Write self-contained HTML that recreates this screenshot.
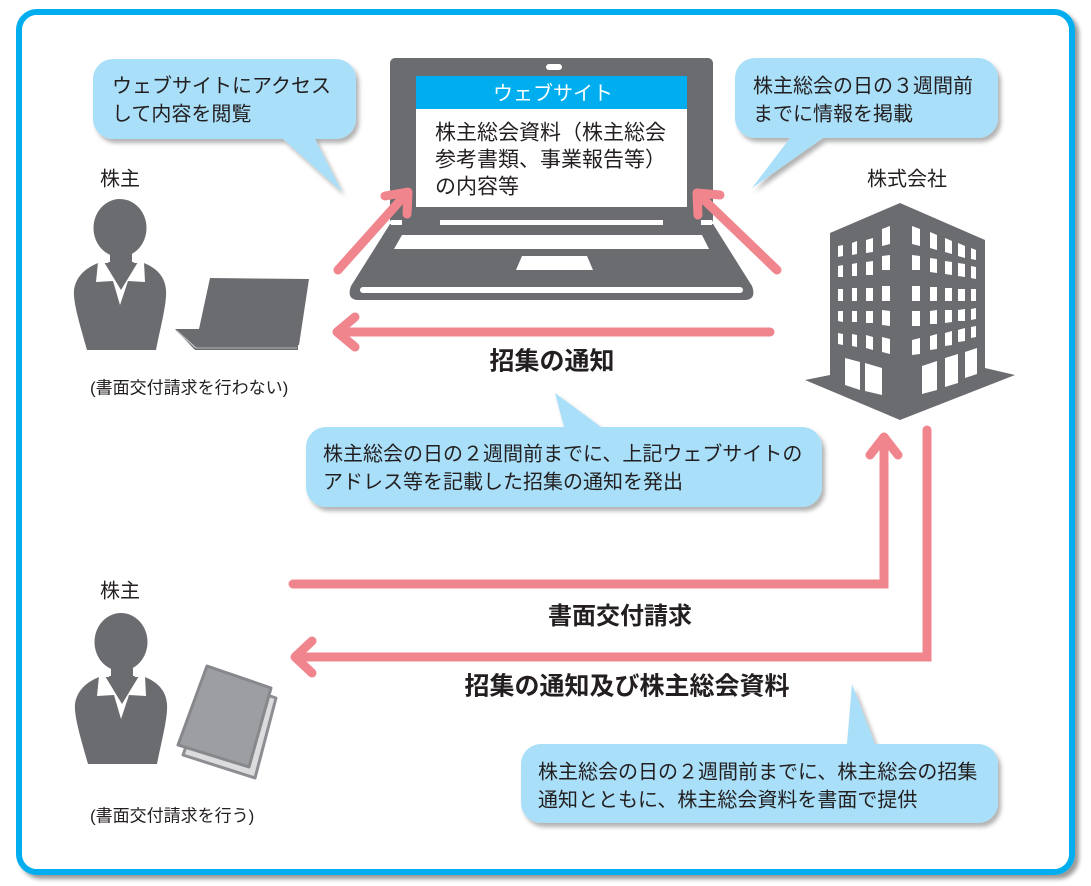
<!DOCTYPE html>
<html><head><meta charset="utf-8">
<style>
html,body{margin:0;padding:0;background:#fff;}
svg{display:block;}
text{font-family:"Liberation Sans","Noto Sans CJK JP",sans-serif;fill:#231f20;}
</style></head>
<body>
<svg width="1091" height="886" viewBox="0 0 1091 886" xmlns="http://www.w3.org/2000/svg">
<defs>
<filter id="sh" x="-10%" y="-10%" width="130%" height="140%">
<feDropShadow dx="3" dy="4" stdDeviation="2" flood-color="#000" flood-opacity="0.3"/>
</filter>
<filter id="bsh" x="-5%" y="-5%" width="110%" height="110%">
<feDropShadow dx="4" dy="4" stdDeviation="2" flood-color="#000" flood-opacity="0.4"/>
</filter>
</defs>
<rect width="1091" height="886" fill="#fff"/>
<!-- outer border -->
<rect x="19" y="12" width="1053" height="860" rx="18" fill="#fff" stroke="#00aeef" stroke-width="6" filter="url(#bsh)"/>
<rect x="22" y="15" width="1047" height="854" rx="15" fill="#fff"/>

<!-- bubble 1 -->
<path d="M113,59 H336 A20,20 0 0 1 356,79 V119 A20,20 0 0 1 336,139 H315 L342,192 L283,139 H113 A20,20 0 0 1 93,119 V79 A20,20 0 0 1 113,59 Z" fill="#a9dff8" filter="url(#sh)"/>
<text x="112" y="92.5" font-size="20">ウェブサイトにアクセス</text>
<text x="112" y="120.5" font-size="20">して内容を閲覧</text>

<!-- bubble 2 -->
<path d="M755,58 H978 A20,20 0 0 1 998,78 V118 A20,20 0 0 1 978,138 H823 L752,188 L790,138 H755 A20,20 0 0 1 735,118 V78 A20,20 0 0 1 755,58 Z" fill="#a9dff8" filter="url(#sh)"/>
<text x="753" y="92.5" font-size="20">株主総会の日の３週間前</text>
<text x="753" y="120.5" font-size="20">までに情報を掲載</text>

<!-- bubble 3 -->
<path d="M326,427 H564 L555,393 L601,427 H802 A20,20 0 0 1 822,447 V487 A20,20 0 0 1 802,507 H326 A20,20 0 0 1 306,487 V447 A20,20 0 0 1 326,427 Z" fill="#a9dff8" filter="url(#sh)"/>
<text x="323" y="460.5" font-size="20">株主総会の日の２週間前までに、上記ウェブサイトの</text>
<text x="323" y="488.5" font-size="20">アドレス等を記載した招集の通知を発出</text>

<!-- bubble 4 -->
<path d="M541,744 H847 L852,684 L875,744 H978 A20,20 0 0 1 998,764 V803 A20,20 0 0 1 978,823 H541 A20,20 0 0 1 521,803 V764 A20,20 0 0 1 541,744 Z" fill="#a9dff8" filter="url(#sh)"/>
<text x="538" y="778.5" font-size="20">株主総会の日の２週間前までに、株主総会の招集</text>
<text x="538" y="806.5" font-size="20">通知とともに、株主総会資料を書面で提供</text>

<!-- big laptop -->
<g fill="#6b6c70">
<rect x="390" y="58" width="323" height="166" rx="5"/>
<path d="M390,224 L713,224 L752,286 Q757,300 744,300 L359,300 Q346,300 351,286 Z"/>
</g>
<rect x="391" y="220" width="11" height="5" fill="#fff"/>
<rect x="440" y="220" width="223" height="5" fill="#fff"/>
<rect x="701" y="220" width="11" height="5" fill="#fff"/>
<rect x="546" y="64" width="16" height="6" rx="3" fill="#fff"/>
<rect x="416" y="76" width="271" height="33" fill="#00aeef"/>
<rect x="416" y="109" width="271" height="98" fill="#fff"/>
<text x="553" y="100" font-size="20" text-anchor="middle" style="fill:#fff">ウェブサイト</text>
<text x="435" y="139.5" font-size="21">株主総会資料（株主総会</text>
<text x="435" y="166.5" font-size="21">参考書類、事業報告等）</text>
<text x="435" y="193.5" font-size="21">の内容等</text>
<polygon points="402,235 702,235 709,249 394,249" fill="#fff"/>
<polygon points="522,256 587,256 593,270 516,270" fill="#fff"/>
<rect x="360" y="287" width="383" height="6" rx="3" fill="#fff"/>

<!-- building -->
<text x="867" y="185.5" font-size="20">株式会社</text>
<polygon points="830,233 900,203 985,240 985,368 1015,375 900,420 805,380 830,375" fill="#6b6c70"/>
<g fill="#fff">
<polygon points="838,246 843,245 843,256 838,257"/>
<polygon points="852,243 857,241 857,254 852,255"/>
<polygon points="866,240 873,238 873,252 866,253"/>
<polygon points="882,229 890,226 890,244 882,246"/>
<polygon points="838,266 843,265 843,277 838,277"/>
<polygon points="852,264 857,263 857,276 852,276"/>
<polygon points="866,262 873,261 873,275 866,275"/>
<polygon points="882,256 890,255 890,270 882,270"/>
<rect x="838" y="289" width="5" height="12"/>
<rect x="852" y="288" width="5" height="13"/>
<rect x="866" y="288" width="7" height="13"/>
<rect x="882" y="286" width="8" height="15"/>
<polygon points="838,311 843,311 843,322 838,321"/>
<polygon points="852,311 857,311 857,322 852,322"/>
<polygon points="866,311 873,311 873,323 866,323"/>
<polygon points="882,310 890,311 890,326 882,325"/>
<polygon points="838,333 843,334 843,345 838,344"/>
<polygon points="852,334 857,335 857,347 852,346"/>
<polygon points="866,335 873,337 873,350 866,348"/>
<polygon points="882,337 890,339 890,354 882,352"/>
<polygon points="845,358 860,362 860,390 845,385"/>
<polygon points="865,363 882,368 882,395 865,391"/>
<polygon points="912,226 920,229 920,246 912,244"/>
<polygon points="930,232 937,235 937,250 930,248"/>
<polygon points="945,238 952,241 952,254 945,252"/>
<polygon points="958,243 965,246 965,258 958,256"/>
<polygon points="971,248 976,250 976,260 971,259"/>
<polygon points="912,255 920,256 920,270 912,270"/>
<polygon points="930,258 937,259 937,273 930,272"/>
<polygon points="945,261 952,262 952,275 945,274"/>
<polygon points="958,263 965,264 965,277 958,276"/>
<polygon points="971,266 976,267 976,279 971,278"/>
<rect x="912" y="286" width="8" height="15"/>
<rect x="930" y="287" width="7" height="14"/>
<rect x="945" y="288" width="7" height="13"/>
<rect x="958" y="289" width="7" height="12"/>
<rect x="971" y="289" width="5" height="12"/>
<polygon points="912,311 920,311 920,326 912,326"/>
<polygon points="930,311 937,310 937,324 930,324"/>
<polygon points="945,310 952,310 952,322 945,323"/>
<polygon points="958,310 965,309 965,321 958,321"/>
<polygon points="971,309 976,308 976,319 971,320"/>
<polygon points="912,340 920,338 920,354 912,355"/>
<polygon points="930,336 937,334 937,349 930,350"/>
<polygon points="945,333 952,331 952,345 945,346"/>
<polygon points="958,330 965,328 965,341 958,342"/>
<polygon points="971,327 976,326 976,337 971,338"/>
<polygon points="922,366 937,361 937,390 922,394"/>
<polygon points="945,358 958,354 958,383 945,387"/>
<polygon points="965,352 977,348 977,374 965,378"/>
</g>

<!-- person 1 -->
<g id="p1">
<ellipse cx="120" cy="228" rx="26.5" ry="29" fill="#6b6c70"/>
<path d="M87,350 C80,325 73,303 74,290 C76,276 86,268 98,263 L144,263 C156,268 165,276 166,290 C167,303 161,325 156,350 Z" fill="#6b6c70"/>
<rect x="110" y="250" width="22" height="14" fill="#6b6c70"/>
<polygon points="98,262 96,282 113,281 120,305 128,281 145,282 144,262 138,262 121,290 104,262" fill="#fff"/>
<polygon points="108,262 134,262 121,289" fill="#6b6c70"/>
</g>
<text x="100" y="185.5" font-size="20">株主</text>
<!-- small laptop -->
<polygon points="210,278 309,279 299,345 199,345 199,329" fill="#6b6c70"/>
<polygon points="175,329 200,329 210,341 298,341 298,350 195,350" fill="#6b6c70"/>
<line x1="177" y1="331" x2="196" y2="348" stroke="#b9babd" stroke-width="1.5"/>
<line x1="196" y1="348" x2="297" y2="348" stroke="#9c9da1" stroke-width="1.5"/>
<text x="90" y="393.5" font-size="17">(書面交付請求を行わない)</text>

<!-- person 2 -->
<use href="#p1" transform="translate(1,414)"/>
<text x="100" y="597.5" font-size="20">株主</text>
<!-- documents -->
<polygon points="211,676 276,698 255,778 183,755" fill="#dcdcde" stroke="#8d8e92" stroke-width="3" stroke-linejoin="round"/>
<polygon points="207,666 271,688 249,767 178,745" fill="#9d9ea1" stroke="#87888c" stroke-width="3" stroke-linejoin="round"/>
<text x="90" y="821.5" font-size="17">(書面交付請求を行う)</text>

<!-- pink arrows -->
<g stroke="#f0858d" stroke-width="9" fill="none" stroke-linecap="round" stroke-linejoin="round">
<line x1="338" y1="270" x2="406" y2="194"/>
<polyline points="385,196 408,192 407,214"/>
<line x1="777" y1="270" x2="699" y2="195"/>
<polyline points="720,195 697,193 698,215"/>
<line x1="770" y1="332" x2="339" y2="332"/>
<polyline points="355,317 337,332 355,347"/>
</g>
<g stroke="#f0858d" stroke-width="9" fill="none" stroke-linecap="round" stroke-linejoin="miter">
<polyline points="293,584 884,584 884,439"/>
<polyline points="870,455 884,437 898,455" stroke-linejoin="round"/>
<polyline points="927,430 927,657 297,657"/>
<polyline points="312,641 295,657 312,673" stroke-linejoin="round"/>
</g>

<!-- arrow labels -->
<text x="552" y="369.5" font-size="25" font-weight="bold" text-anchor="middle">招集の通知</text>
<text x="620" y="624" font-size="24" font-weight="bold" text-anchor="middle">書面交付請求</text>
<text x="627" y="694.5" font-size="25" font-weight="bold" text-anchor="middle">招集の通知及び株主総会資料</text>
</svg>
</body></html>
